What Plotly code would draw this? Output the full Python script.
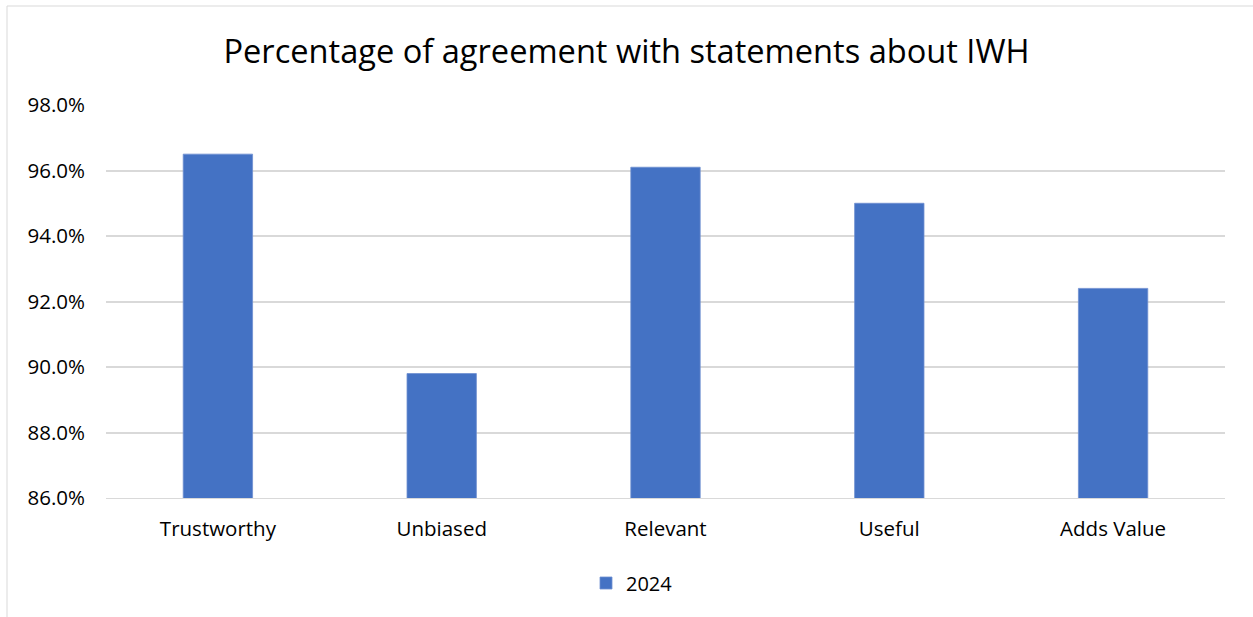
import plotly.graph_objects as go

categories = ["Trustworthy", "Unbiased", "Relevant", "Useful", "Adds Value"]
values_2024 = [0.965, 0.898, 0.961, 0.950, 0.924]
series_name = "2024"
y_ticks = [0.86, 0.88, 0.90, 0.92, 0.94, 0.96, 0.98]

W, H = 1253, 617
L, R, T, B = 106, 28, 105, 119
pw, ph = W - L - R, H - T - B

fig = go.Figure()
fig.add_trace(go.Bar(
    x=categories, y=values_2024, name=series_name,
    marker=dict(color="#4472C4", line=dict(width=0.8, color="#6F8FD0")),
))

font = "Open Sans, Liberation Sans, sans-serif"
fig.update_layout(
    width=W, height=H,
    margin=dict(l=L, r=R, t=T, b=B),
    paper_bgcolor="white", plot_bgcolor="white",
    bargap=0.69,
    title=dict(text="Percentage of agreement with statements about IWH",
               x=(630 - L) / pw * 0 + 0.5, xanchor="center", y=1 - 52 / H, yanchor="middle",
               font=dict(family=font, size=32.6, color="#000000")),
    font=dict(family=font, size=20, color="#000000"),
    xaxis=dict(showgrid=False, showline=True, linecolor="#D9D9D9", linewidth=1,
               ticks="", tickfont=dict(size=20.5, color="#000000"), ticklabelstandoff=12),
    yaxis=dict(range=[0.86, 0.98], tickvals=y_ticks, tickformat=".1%",
               showgrid=True, gridcolor="#D9D9D9", gridwidth=1.5,
               zeroline=False, showline=False, ticks="",
               tickfont=dict(size=20.5, color="#000000"), ticklabelstandoff=20),
    showlegend=True,
    legend=dict(orientation="h", x=(586 - L) / pw, xanchor="left", y=-(583 - 498) / ph,
                yanchor="middle", font=dict(size=20, color="#000000"),
                itemwidth=30),
)

# chart frame (left and top borders)
fx0 = (7 - L) / pw
fy1 = 1 + (T - 6) / ph
fy0 = -(H - T - ph + 20) / ph
fig.add_shape(type="line", xref="paper", yref="paper", x0=fx0, x1=fx0,
              y0=fy0, y1=fy1, line=dict(color="#D9D9D9", width=1))
fig.add_shape(type="line", xref="paper", yref="paper", x0=fx0, x1=1 + R / pw + 0.01,
              y0=fy1, y1=fy1, line=dict(color="#D9D9D9", width=1))

fig.write_html("out.html")
